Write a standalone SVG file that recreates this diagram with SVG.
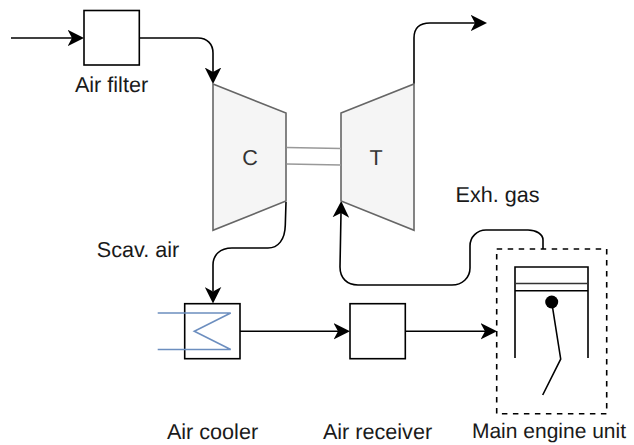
<svg xmlns="http://www.w3.org/2000/svg" width="634" height="445" viewBox="0 0 634 445">
<style>
text{font-family:"Liberation Sans",Arial,Helvetica,sans-serif;font-size:21.6px;fill:#1a1a1a;text-anchor:middle;text-rendering:geometricPrecision}
.box{fill:#fff;stroke:#000;stroke-width:1.6}
.tb{fill:#f5f5f5;stroke:#666;stroke-width:1.6}
.shaft{fill:none;stroke:#999;stroke-width:1.6}
.lbl{fill:#333}
.con{fill:none;stroke:#000;stroke-width:1.6;marker-end:url(#ah)}
.con2{fill:none;stroke:#000;stroke-width:1.6}
.blue{fill:none;stroke:#6c8ebf;stroke-width:1.6}
.m{fill:none;stroke:#000;stroke-width:1.6}
</style>
<defs>
<marker id="ah" markerUnits="userSpaceOnUse" markerWidth="17" markerHeight="17" viewBox="-0.500 -0.500 17 17" refX="4" refY="8" orient="auto">
<path d="M16 8L-0.500 -0.300L4 8L-0.500 16.300Z" fill="#000"/>
</marker>
</defs>
<g id="connectors">
<path class="con" d="M11 38H72"/>
<path class="con" d="M140 38H198C207 38 213 44 213 53V72"/>
<path class="con" d="M414 84V38C414 28 420 23 430 23H475"/>
<path class="con2" d="M286 202L285.300 225C285 240 278 248 268 248H232"/>
<path class="con" d="M232 248C220 248 213 255 213 265V291.500"/>
<path class="con" d="M240 331.300H338"/>
<path class="con" d="M405.500 331.300H485"/>
<path class="con" d="M543 249V240C543 234 536 230 528 230H486C477 230 470 237 470 246V268C470 278 462 285 452 285H358C347 285 340 278 340 267L341 213"/>
</g>
<g id="air-filter"><rect class="box" x="84" y="10.500" width="55.300" height="54.500"/><text x="111.500" y="92">Air filter</text></g>
<g id="compressor"><path class="tb" d="M213 84L286 113V201L213 230.300Z"/><text class="lbl" x="250" y="165">C</text></g>
<g id="turbine"><path class="tb" d="M341 113L414 84V230.300L341 201Z"/><text class="lbl" x="376" y="165">T</text></g>
<g id="shaft"><path class="shaft" d="M286.700 147.500L341 148.500M286.700 164L341 165"/></g>
<g id="air-cooler"><rect class="box" x="184.700" y="303.700" width="55.300" height="55"/><path class="blue" d="M157.700 313H230.700L194.300 331.300L230.700 349.500H157.700"/><text x="212.500" y="439">Air cooler</text></g>
<g id="air-receiver"><rect class="box" x="350" y="303.700" width="55.300" height="55"/><text x="377.500" y="439">Air receiver</text></g>
<g id="main-engine"><rect x="496.700" y="249" width="110" height="164.700" fill="none" stroke="#000" stroke-width="1.6" stroke-dasharray="5.500 5.500"/><path class="m" d="M515 358V267H588V358M515 290.700H588"/><path d="M515 283.500H588" fill="none" stroke="#333" stroke-width="1.600"/><circle cx="551.700" cy="302" r="6.500" fill="#000"/><path class="m" d="M551.700 302L560.700 359L542.700 395"/><text x="549" y="438" style="font-size:21px">Main engine unit</text></g>
<g id="labels"><text x="497.500" y="202">Exh. gas</text><text x="138" y="257">Scav. air</text></g>
</svg>
